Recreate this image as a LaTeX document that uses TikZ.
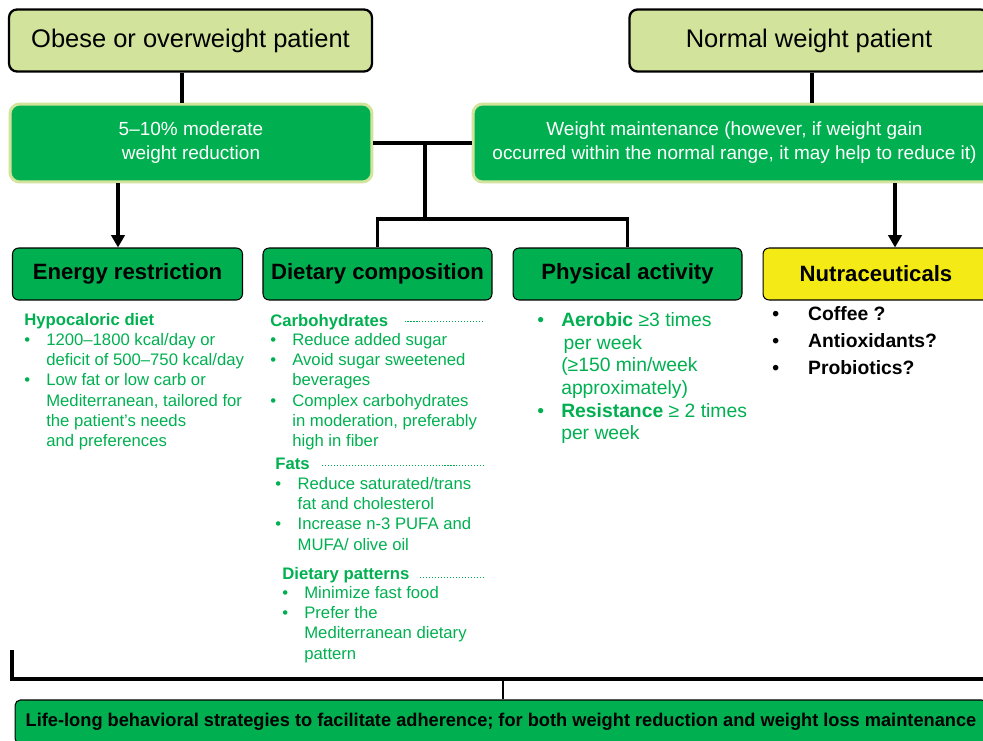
\documentclass[tikz,border=0pt]{standalone}
\usepackage{fontspec}
\setmainfont{Liberation Sans}
\usepackage{graphicx}
\usetikzlibrary{arrows.meta}
\definecolor{palegreen}{RGB}{210,227,155}
\definecolor{boxgreen}{RGB}{0,176,80}
\definecolor{nutrayellow}{RGB}{244,235,22}
\newcommand{\listbul}[1]{\makebox[#1][l]{\textbullet}}

\begin{document}
\begin{tikzpicture}[x=0.02cm,y=-0.02cm,
patient node/.style = {rectangle,rounded corners=4.5pt,draw=black,line width=1.3pt,fill=palegreen,minimum height=1.24cm,inner sep=0pt,font=\fontsize{14.5}{17}\selectfont},
goal node/.style = {rectangle,rounded corners=5.5pt,draw=palegreen,line width=1.7pt,fill=boxgreen,minimum height=1.56cm,inner sep=0pt,align=center,text=white,font=\fontsize{10.8}{13.6}\selectfont},
topic node/.style = {rectangle,rounded corners=3.5pt,draw=black,line width=0.6pt,fill=boxgreen,minimum height=1.04cm,inner sep=0pt,font=\bfseries\fontsize{12.6}{15}\selectfont},
head text/.style = {anchor=base west,inner sep=0pt,text=boxgreen,font=\bfseries\fontsize{9.5}{11.5}\selectfont},
list text/.style = {anchor=north west,inner sep=0pt,align=left,text=boxgreen,font=\fontsize{9.5}{11.5}\selectfont},
link/.style = {line width=2.2pt},
tip/.style = {-{Triangle[width=7.5pt,length=7pt]}},
leader/.style = {boxgreen,line width=0.5pt,dash pattern=on 0.6pt off 1.1pt}]

\useasboundingbox (0,0) rectangle (983,740);
\clip (0,0) rectangle (983,740);

% patients
\node[patient node,minimum width=7.26cm] (obese) at (190.5,40.5) {Obese or overweight patient};
\node[patient node,minimum width=7.18cm] (normal) at (809,40.5) {Normal weight patient};

% goals
\node[goal node,minimum width=7.24cm] (reduce) at (191,143) {5–10\% moderate\\weight reduction};
\node[goal node,minimum width=10.46cm] (maintain) at (734.5,143) {Weight maintenance (however, if weight gain\\occurred within the normal range, it may help to reduce it)};

% topics
\node[topic node,minimum width=4.6cm] (energy) at (127.5,274) {Energy restriction};
\node[topic node,minimum width=4.58cm] (dietary) at (377.5,274) {Dietary composition};
\node[topic node,minimum width=4.58cm] (physical) at (627.5,274) {Physical activity};
\node[topic node,minimum width=4.52cm,fill=nutrayellow] (nutra) at (876,274) {Nutraceuticals};

% connectors
\draw[link] ([xshift=-0.17cm]obese.south) -- ([xshift=-0.17cm]obese.south |- reduce.north);
\draw[link] ([xshift=0.06cm]normal.south) -- ([xshift=0.06cm]normal.south |- maintain.north);
\draw[link] (reduce.east) -- (maintain.west);
\coordinate (hub) at (425,143);
\coordinate (split) at (425,219);
\draw[link] (hub) -- (split);
\draw[link] (dietary.north) |- (split) -| (physical.north);
\draw[link,tip] ([xshift=-0.19cm]reduce.south -| energy.north) -- ([xshift=-0.19cm]energy.north);
\draw[link,tip] ([xshift=0.38cm]maintain.south -| nutra.north) -- ([xshift=0.38cm]nutra.north);

% energy restriction
\node[head text] (hypo) at (24,325) {Hypocaloric diet};
\node[list text] (hypolist) at (24,333) {\listbul{12.5pt}1200–1800 kcal/day or\\
\hspace*{12.5pt}deficit of 500–750 kcal/day\\
\listbul{12.5pt}Low fat or low carb or\\
\hspace*{12.5pt}Mediterranean, tailored for\\
\hspace*{12.5pt}the patient’s needs\\
\hspace*{12.5pt}and preferences};

% dietary composition
\node[head text] (carbs) at (270,326) {Carbohydrates};
\draw[leader] (carbs.base east) ++(16,-5) -- (485,321);
\node[list text] (carbslist) at (270,333) {\listbul{12.5pt}Reduce added sugar\\
\listbul{12.5pt}Avoid sugar sweetened\\
\hspace*{12.5pt}beverages\\
\listbul{12.5pt}Complex carbohydrates\\
\hspace*{12.5pt}in moderation, preferably\\
\hspace*{12.5pt}high in fiber};
\node[head text] (fats) at (275,469) {Fats};
\draw[leader] (fats.base east) ++(12,-4) -- (486,465);
\node[list text] (fatslist) at (275,477) {\listbul{12.7pt}Reduce saturated/trans\\
\hspace*{12.7pt}fat and cholesterol\\
\listbul{12.7pt}Increase n-3 PUFA and\\
\hspace*{12.7pt}MUFA/ olive oil};
\node[head text] (patterns) at (282,579) {Dietary patterns};
\draw[leader] (patterns.base east) ++(10,-2) -- (484,577);
\node[list text] (patternslist) at (282,586) {\listbul{12.5pt}Minimize fast food\\
\listbul{12.5pt}Prefer the\\
\hspace*{12.5pt}Mediterranean dietary\\
\hspace*{12.5pt}pattern};

% physical activity
\node[list text,font=\fontsize{11}{12.9}\selectfont] (activitylist) at (537,312) {\listbul{13.6pt}\textbf{Aerobic} ≥3 times\\
\hspace*{15pt}per week\\
\hspace*{13.6pt}(≥150 min/week\\
\hspace*{13.6pt}approximately)\\
\listbul{13.6pt}\textbf{Resistance} ≥ 2 times\\
\hspace*{13.6pt}per week};

% nutraceuticals
\node[list text,text=black,font=\bfseries\fontsize{11}{15.3}\selectfont] (nutralist) at (772,306) {\listbul{20.4pt}Coffee ?\\
\listbul{20.4pt}Antioxidants?\\
\listbul{20.4pt}Probiotics?};

% behavioural strategies
\coordinate (barl) at (12,650);
\coordinate (barr) at (995,679);
\draw[link] (barl) |- (barr);
\node[topic node,minimum width=19.44cm,minimum height=0.88cm,rounded corners=3pt] (lifelong) at (501,722) {\resizebox{541pt}{\height}{\fontsize{10.5}{12}\selectfont Life-long behavioral strategies to facilitate adherence; for both weight reduction and weight loss maintenance}};
\coordinate (join) at (503,679);
\draw[line width=1.4pt] (join) -- (join |- lifelong.north);
\end{tikzpicture}
\end{document}
